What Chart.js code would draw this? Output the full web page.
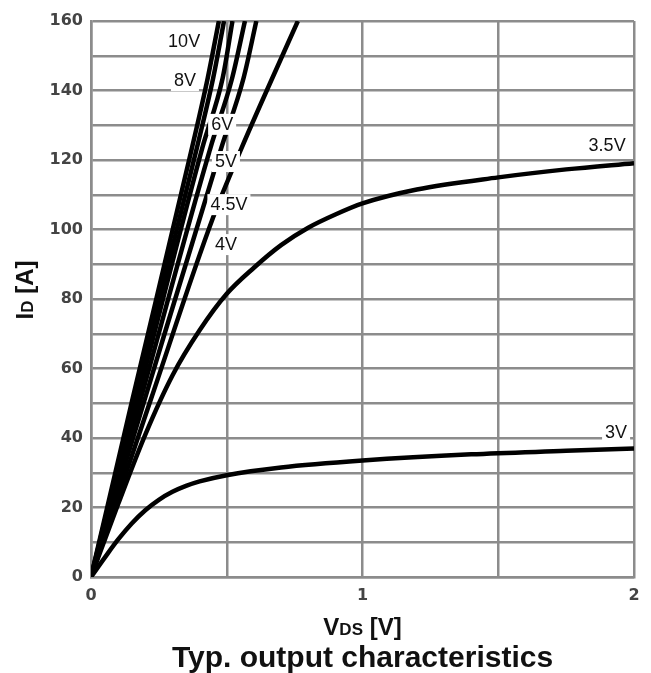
<!DOCTYPE html>
<html>
<head>
<meta charset="utf-8">
<script src="https://cdn.jsdelivr.net/npm/chart.js@4"></script>
<style>
  body { margin: 0; background: #fff; }
  canvas { display: block; }
</style>
</head>
<body>
<canvas id="chart" width="651" height="673"></canvas>
<script>
const idSteep = [0, 50.9, 123.5, 143.6, 160];
const vds10 = [0, 0.152, 0.372, 0.43, 0.471];
const vds8 = [0, 0.16, 0.39, 0.45, 0.49];
const vds6 = [0, 0.17, 0.41, 0.485, 0.521];
const vds5 = [0, 0.182, 0.44, 0.52, 0.567];
const vds45 = [0, 0.197, 0.48, 0.562, 0.609];

const vds4 = [0, 0.22, 0.449, 0.556, 0.668, 0.762];
const id4 = [0, 51, 103.3, 123.7, 143.6, 160];

const vds35 = [0, 0.1, 0.2, 0.3, 0.4, 0.5, 0.6, 0.7, 0.8, 0.9, 1.0, 1.2, 1.5, 1.75, 2.0];
const id35 = [0, 21, 41, 58, 71, 81.5, 89, 95.5, 100.5, 104.3, 107.5, 111.5, 115, 117.3, 119.1];

const vds3 = [0, 0.05, 0.1, 0.15, 0.2, 0.25, 0.3, 0.35, 0.4, 0.5, 0.7, 1.0, 1.4, 1.75, 2.0];
const id3 = [0, 5.5, 10.8, 15.4, 19.2, 22.2, 24.5, 26.2, 27.5, 29.3, 31.5, 33.5, 35.3, 36.3, 37.0];

// curve labels and where they sit (data coords)
const curveNames = ['10V', '8V', '6V', '5V', '4.5V', '4V', '3.5V', '3V'];
const labelVds = [0.343, 0.346, 0.483, 0.497, 0.508, 0.497, 1.901, 1.934];
const labelId = [154.2, 143, 130.4, 119.7, 107.3, 95.8, 124.3, 41.7];

function pts(xs, ys) {
  return xs.map((x, i) => ({ x: x, y: ys[i] }));
}

const curves = [
  pts(vds10, idSteep),
  pts(vds8, idSteep),
  pts(vds6, idSteep),
  pts(vds5, idSteep),
  pts(vds45, idSteep),
  pts(vds4, id4),
  pts(vds35, id35),
  pts(vds3, id3)
];

const gridColor = '#8c8c8c';
const tickFont = { family: 'DejaVu Sans', size: 16, weight: 'bold' };

function drawParts(ctx, parts, x, y) {
  let w = 0;
  parts.forEach(p => { ctx.font = p.f; w += ctx.measureText(p.t).width; });
  let cx = x - w / 2;
  parts.forEach(p => {
    ctx.font = p.f;
    ctx.fillText(p.t, cx, y);
    cx += ctx.measureText(p.t).width;
  });
}

const textPlugin = {
  id: 'texts',
  afterDatasetsDraw: (chart) => {
    const { ctx, chartArea, scales: { x, y } } = chart;
    ctx.save();
    // curve labels on white boxes
    ctx.font = '18px "Liberation Sans", Arial, sans-serif';
    ctx.textBaseline = 'middle';
    ctx.textAlign = 'center';
    curveNames.forEach((name, i) => {
      const px = x.getPixelForValue(labelVds[i]);
      const py = y.getPixelForValue(labelId[i]);
      const w = ctx.measureText(name).width;
      ctx.fillStyle = '#fff';
      ctx.fillRect(px - w / 2 - 3, py - 10, w + 6, 21);
      ctx.fillStyle = '#111';
      ctx.fillText(name, px, py + 1);
    });
    ctx.restore();

    ctx.save();
    ctx.fillStyle = '#111';
    ctx.textBaseline = 'alphabetic';
    ctx.textAlign = 'left';
    const big = 'bold 24px "Liberation Sans", Arial, sans-serif';
    const small = 'bold 17px "Liberation Sans", Arial, sans-serif';
    const midX = (chartArea.left + chartArea.right) / 2;
    drawParts(ctx, [{ t: 'V', f: big }, { t: 'DS', f: small }, { t: ' [V]', f: big }], midX, 635);

    ctx.save();
    ctx.translate(33, 290);
    ctx.rotate(-Math.PI / 2);
    drawParts(ctx, [{ t: 'I', f: big }, { t: 'D', f: small }, { t: ' [A]', f: big }], 0, 0);
    ctx.restore();

    ctx.font = 'bold 30px "Liberation Sans", Arial, sans-serif';
    ctx.textAlign = 'center';
    ctx.fillText('Typ. output characteristics', midX, 667);
    ctx.restore();
  }
};

new Chart(document.getElementById('chart'), {
  type: 'line',
  data: {
    datasets: curves.map((c, i) => ({
      label: curveNames[i],
      data: c,
      borderColor: '#000',
      borderWidth: 4.5,
      pointRadius: 0,
      cubicInterpolationMode: 'monotone',
      fill: false
    }))
  },
  options: {
    responsive: false,
    animation: false,
    layout: { padding: { top: 21, right: 17, bottom: 0, left: 0 } },
    plugins: {
      legend: { display: false },
      tooltip: { enabled: false }
    },
    scales: {
      x: {
        type: 'linear',
        min: 0,
        max: 2,
        afterFit: (scale) => { scale.height = 96; },
        ticks: {
          stepSize: 0.5,
          font: tickFont,
          color: '#444',
          padding: 9,
          maxRotation: 0,
          callback: (v) => Number.isInteger(v) ? v : ''
        },
        grid: { color: gridColor, lineWidth: 2.5, drawTicks: false },
        border: { color: gridColor, width: 2.5 }
      },
      y: {
        type: 'linear',
        min: 0,
        max: 160,
        afterFit: (scale) => { scale.width = 91; },
        ticks: {
          stepSize: 10,
          font: tickFont,
          color: '#444',
          padding: 8,
          callback: (v) => v % 20 === 0 ? v : ''
        },
        grid: { color: gridColor, lineWidth: 2.5, drawTicks: false },
        border: { color: gridColor, width: 2.5 }
      }
    }
  },
  plugins: [textPlugin]
});
</script>
</body>
</html>
